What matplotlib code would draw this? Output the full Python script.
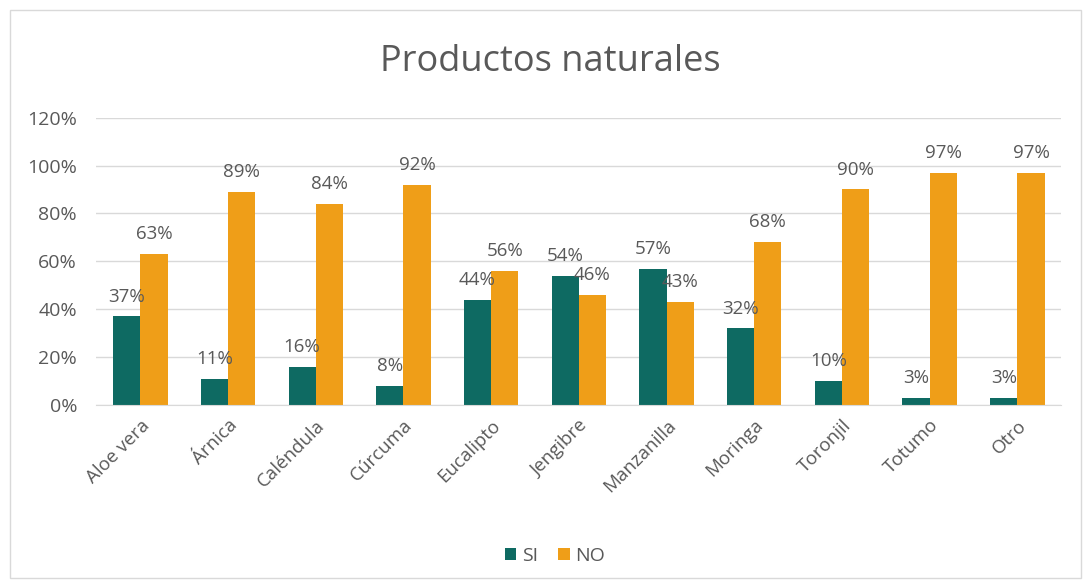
import matplotlib.pyplot as plt
from matplotlib.patches import Rectangle
import numpy as np

# Datos de la encuesta
productos = ['Aloe vera', 'Árnica', 'Caléndula', 'Cúrcuma', 'Eucalipto', 'Jengibre',
             'Manzanilla', 'Moringa', 'Toronjil', 'Totumo', 'Otro']
si = [37, 11, 16, 8, 44, 54, 57, 32, 10, 3, 3]
no = [63, 89, 84, 92, 56, 46, 43, 68, 90, 97, 97]

color_si = '#0e6a62'
color_no = '#ef9e18'
gris = '#595959'
fs = 14

plt.rcParams['font.family'] = ['Open Sans', 'DejaVu Sans']

fig = plt.figure(figsize=(10.84, 5.88), dpi=100)
# marco exterior del grafico
fig.patches.append(Rectangle((0.009, 0.017), 0.988, 0.966, transform=fig.transFigure,
                             fill=False, edgecolor='#d9d9d9', linewidth=1))

ax = fig.add_axes([0.089, 0.311, 0.890, 0.489])
x = np.arange(len(productos))
w = 0.31
b1 = ax.bar(x - w / 2, si, w, color=color_si, label='SI')
b2 = ax.bar(x + w / 2, no, w, color=color_no, label='NO')

for barras, vals in ((b1, si), (b2, no)):
    for r, v in zip(barras, vals):
        ax.text(r.get_x() + r.get_width() / 2, v + 4.5, f'{v}%', ha='center', va='bottom',
                fontsize=13.5, color=gris)

ax.set_ylim(0, 120)
ax.set_xlim(-0.5, len(productos) - 0.5)
ax.set_yticks(range(0, 121, 20))
ax.set_yticklabels([f'{t}%' for t in range(0, 121, 20)], fontsize=fs, color=gris)
ax.set_xticks(x)
ax.set_xticklabels(productos, rotation=45, ha='right', rotation_mode='anchor',
                   fontsize=13.5, color=gris)
ax.tick_params(axis='y', length=0, pad=14)
ax.tick_params(axis='x', length=0, pad=8)
ax.grid(axis='y', color='#d9d9d9', linewidth=1)
ax.set_axisbelow(True)
for s in ['top', 'right', 'left']:
    ax.spines[s].set_visible(False)
ax.spines['bottom'].set_color('#d9d9d9')

fig.text(0.508, 0.895, 'Productos naturales', ha='center', va='center', fontsize=26, color=gris)
fig.legend(handles=[b1, b2], loc='center', bbox_to_anchor=(0.512, 0.055), ncol=2, frameon=False,
           fontsize=fs, labelcolor=gris, handlelength=0.6, handleheight=0.6,
           handletextpad=0.3, columnspacing=1.0)

fig.savefig('out.png', dpi=100)
